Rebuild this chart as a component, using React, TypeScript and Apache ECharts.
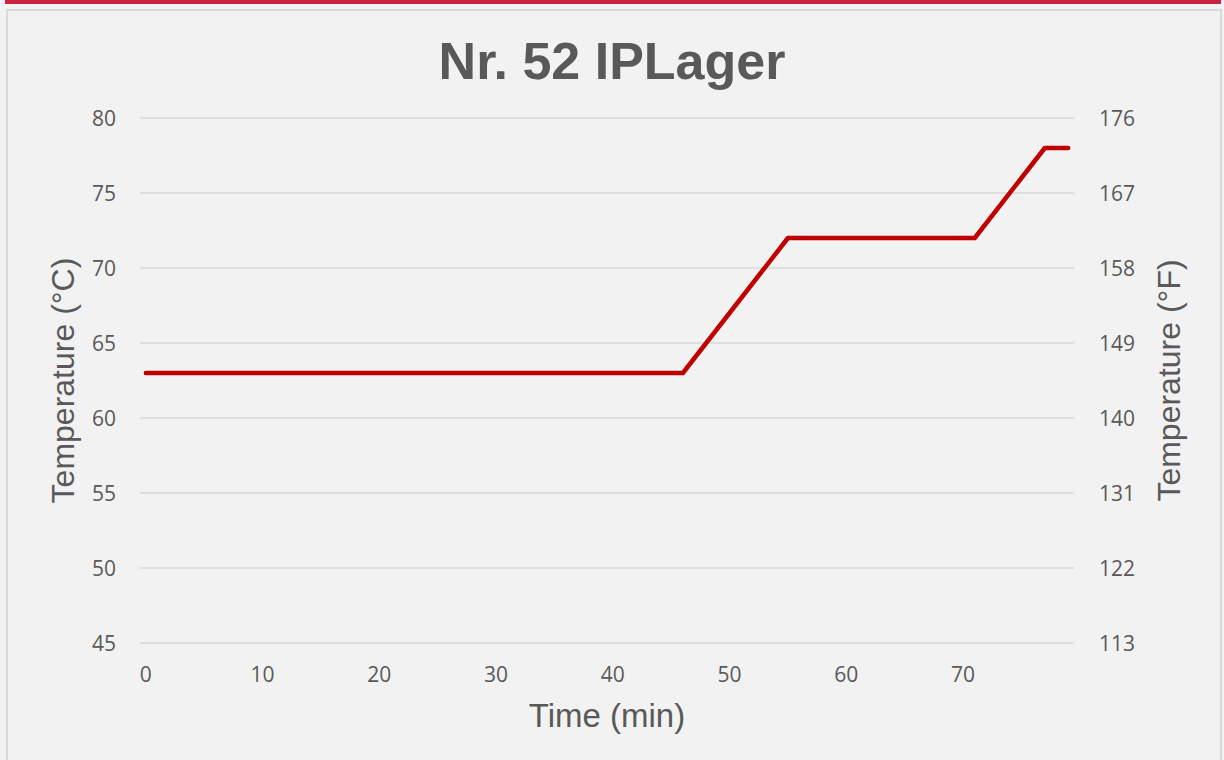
import React, { useEffect, useRef } from "react";
import * as echarts from "echarts";

const title = "Nr. 52 IPLager";
const timeMin = [0, 46, 55, 71, 77, 79];
const tempC = [63, 63, 72, 72, 78, 78];
const xTicks = [0, 10, 20, 30, 40, 50, 60, 70];
const yMinC = 45;
const yMaxC = 80;
const yStepC = 5;

const FONT = "'Open Sans', 'Noto Sans', sans-serif";
const ARIAL = "'Liberation Sans', Arial, sans-serif";
const TXT = "#595959";

export default function App() {
  const ref = useRef<HTMLDivElement>(null);
  useEffect(() => {
    document.body.style.margin = "0";
    const chart = echarts.init(ref.current!, null, { renderer: "svg" });
    const labelStyle = { color: TXT, fontSize: 21, fontFamily: FONT };
    const nameStyle = { color: TXT, fontSize: 32, fontFamily: ARIAL };
    chart.setOption({
      animation: false,
      backgroundColor: "#f2f2f2",
      textStyle: { fontFamily: FONT },
      graphic: [
        { type: "rect", shape: { x: 5, y: 0, width: 1216, height: 4 }, style: { fill: "#c8223f" }, z: -10 },
        { type: "rect", shape: { x: 7, y: 10, width: 1214, height: 770 }, style: { fill: "#f2f2f2", stroke: "#d9d9d9", lineWidth: 2 }, z: -10 },
      ],
      title: {
        text: title,
        left: "center",
        top: 30,
        textStyle: { color: TXT, fontSize: 52, fontWeight: "bold", fontFamily: ARIAL },
      },
      grid: { left: 140, right: 150, top: 118, bottom: 117 },
      xAxis: {
        type: "value",
        min: -0.5,
        max: 79.5,
        name: "Time (min)",
        nameLocation: "middle",
        nameGap: 56,
        nameTextStyle: { ...nameStyle, fontSize: 33 },
        axisLine: { show: false },
        axisTick: { show: false },
        splitLine: { show: false },
        axisLabel: { ...labelStyle, margin: 20, customValues: xTicks },
      },
      yAxis: [
        {
          type: "value",
          min: yMinC,
          max: yMaxC,
          interval: yStepC,
          name: "Temperature (°C)",
          nameLocation: "middle",
          nameGap: 61,
          nameTextStyle: nameStyle,
          axisLine: { show: false },
          axisTick: { show: false },
          axisLabel: { ...labelStyle, margin: 24 },
          splitLine: { lineStyle: { color: "#d9d9d9", width: 1.5 } },
        },
        {
          type: "value",
          min: yMinC,
          max: yMaxC,
          interval: yStepC,
          position: "right",
          name: "Temperature (°F)",
          nameLocation: "middle",
          nameGap: 79,
          nameRotate: 90,
          nameTextStyle: nameStyle,
          axisLine: { show: false },
          axisTick: { show: false },
          splitLine: { show: false },
          axisLabel: {
            ...labelStyle,
            margin: 25,
            formatter: (v: number) => String(Math.round((v * 9) / 5 + 32)),
          },
        },
      ],
      series: [
        {
          type: "line",
          data: timeMin.map((t, i) => [t, tempC[i]]),
          showSymbol: false,
          symbol: "none",
          lineStyle: { color: "#c00000", width: 4.5, cap: "round", join: "round" },
        },
      ],
    });
    return () => chart.dispose();
  }, []);
  return <div ref={ref} style={{ position: "absolute", left: 0, top: 0, width: 1224, height: 760 }} />;
}
